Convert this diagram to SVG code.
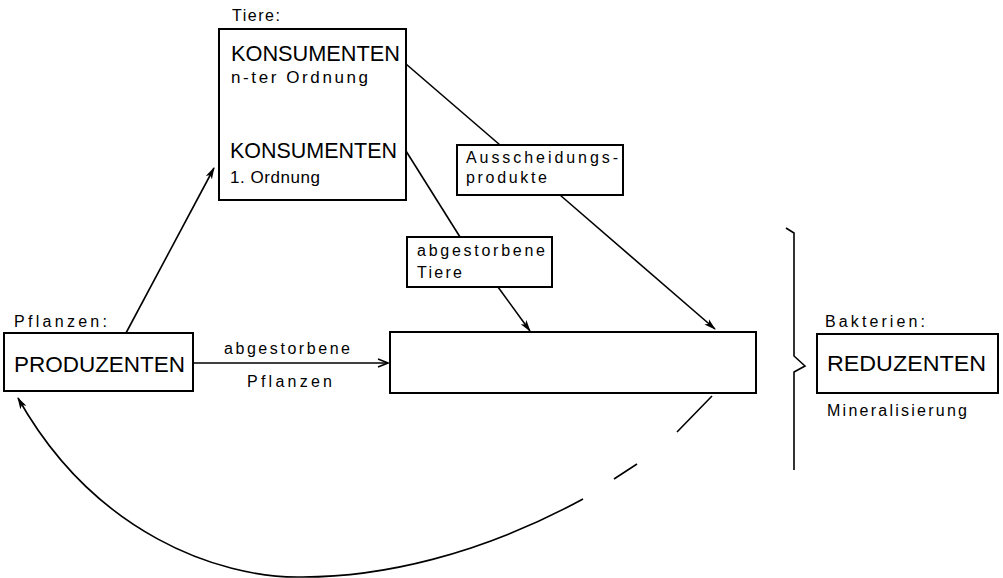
<svg xmlns="http://www.w3.org/2000/svg" width="1003" height="578" viewBox="0 0 1003 578">
<style>
.box{fill:#fff;stroke:#000;stroke-width:2}
.ln{fill:none;stroke:#000;stroke-width:1.6}
.t{font-family:"Liberation Sans",Arial,sans-serif;fill:#000}
.big{font-size:22px}
.mid{font-size:17px}
.sm{font-size:16px}
</style>
<defs>
<marker id="ah" markerWidth="12" markerHeight="8" refX="11" refY="4" orient="auto" markerUnits="userSpaceOnUse">
<path d="M0,0.5 L12,4 L0,7.5 L3,4 Z" fill="#000"/>
</marker>
<marker id="ao" markerWidth="12" markerHeight="10" refX="11" refY="5" orient="auto" markerUnits="userSpaceOnUse">
<path d="M1,1 L11,5 L1,9" fill="none" stroke="#000" stroke-width="1.5"/>
</marker>
</defs>
<rect width="1003" height="578" fill="#fff"/>
<g id="connectors">
<line class="ln" x1="406" y1="64" x2="500" y2="145"/>
<line class="ln" x1="560" y1="195" x2="715" y2="329" marker-end="url(#ah)"/>
<line class="ln" x1="406" y1="151" x2="460" y2="237"/>
<line class="ln" x1="498" y1="287" x2="530" y2="331" marker-end="url(#ah)"/>
<line class="ln" x1="126" y1="333" x2="214" y2="168" marker-end="url(#ah)"/>
<line class="ln" x1="313" y1="133" x2="313" y2="94" marker-end="url(#ah)"/>
<line class="ln" x1="193" y1="363" x2="388" y2="363" marker-end="url(#ao)"/>
<path class="ln" stroke-width="2.2" d="M712,396 L677,432 M637,464 L614,479 M583,499 C480,555 380,578 297,577 C220,577 95,535 18,398" marker-end="url(#ah)"/>
</g>
<g id="konsumenten">
<text class="t sm" x="232" y="21" textLength="48">Tiere:</text>
<rect class="box" x="219" y="29" width="187" height="171"/>
<text class="t big" x="231" y="61" textLength="169" lengthAdjust="spacingAndGlyphs">KONSUMENTEN</text>
<text class="t mid" x="231" y="83" textLength="137">n-ter Ordnung</text>
<text class="t big" x="230" y="158" textLength="167" lengthAdjust="spacingAndGlyphs">KONSUMENTEN</text>
<text class="t mid" x="230" y="183" textLength="90">1. Ordnung</text>
</g>
<g id="produzenten">
<text class="t sm" x="14" y="327" textLength="93">Pflanzen:</text>
<rect class="box" x="4" y="333" width="189" height="58"/>
<text class="t big" x="14" y="372" textLength="171" lengthAdjust="spacingAndGlyphs">PRODUZENTEN</text>
</g>
<g id="label-pflanzen">
<text class="t sm" x="224" y="354" textLength="126">abgestorbene</text>
<text class="t sm" x="247" y="387" textLength="85">Pflanzen</text>
</g>
<g id="ausscheidungsprodukte">
<rect class="box" x="457" y="145" width="166" height="50"/>
<text class="t sm" x="466" y="163" textLength="152">Ausscheidungs-</text>
<text class="t sm" x="466" y="183" textLength="81">produkte</text>
</g>
<g id="abgestorbene-tiere">
<rect class="box" x="407" y="237" width="145" height="50"/>
<text class="t sm" x="417" y="256" textLength="128">abgestorbene</text>
<text class="t sm" x="417" y="278" textLength="45">Tiere</text>
</g>
<g id="sammelbox">
<rect class="box" x="390" y="332" width="366" height="61"/>
</g>
<g id="klammer">
<path class="ln" stroke-width="2" d="M786,228 L794,233 L794,356 L805,366 L794,372 L794,470"/>
</g>
<g id="reduzenten">
<text class="t sm" x="825" y="327" textLength="100">Bakterien:</text>
<rect class="box" x="817" y="334" width="181" height="59"/>
<text class="t big" x="827" y="371" textLength="159" lengthAdjust="spacingAndGlyphs">REDUZENTEN</text>
<text class="t sm" x="827" y="416" textLength="140">Mineralisierung</text>
</g>
</svg>
